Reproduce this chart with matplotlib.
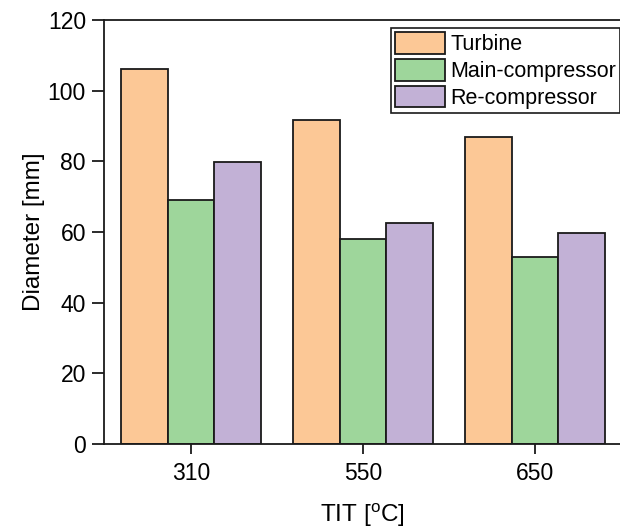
import matplotlib
matplotlib.use("Agg")
import matplotlib.pyplot as plt
import numpy as np

plt.rcParams['font.family'] = ['Liberation Sans', 'DejaVu Sans']
plt.rcParams['mathtext.fontset'] = 'custom'
plt.rcParams['mathtext.rm'] = 'Liberation Sans'
plt.rcParams['mathtext.it'] = 'Liberation Sans:italic'

# Data
tit_labels = ["310", "550", "650"]
series_names = ["Turbine", "Main-compressor", "Re-compressor"]
turbine = [106.1, 91.6, 87.0]
main_compressor = [69.0, 58.0, 52.9]
re_compressor = [79.9, 62.6, 59.7]
colors = ["#FCC896", "#9ED69B", "#C2B1D6"]

fig = plt.figure(figsize=(6.2, 5.29), dpi=100)
ax = fig.add_axes([104 / 620, 85 / 529, 1.0 - 104 / 620, (444 - 20) / 529])

x = np.arange(len(tit_labels))
width = 0.27
for i, (vals, name, c) in enumerate(zip([turbine, main_compressor, re_compressor],
                                        series_names, colors)):
    ax.bar(x + (i - 1) * width, vals, width, color=c, edgecolor="#1a1a1a",
           linewidth=1.3, label=name, zorder=2)

ax.set_xlim(-0.506, 2.494)
ax.set_ylim(0, 120)
ax.set_yticks(np.arange(0, 121, 20))
ax.set_xticks(x)
ax.set_xticklabels(tit_labels)

for side in ["left", "bottom", "top"]:
    ax.spines[side].set_linewidth(1.3)
    ax.spines[side].set_color("#1a1a1a")
ax.spines["right"].set_visible(False)

ax.tick_params(axis="y", direction="out", length=9, width=1.3, labelsize=16.5,
               color="#1a1a1a", pad=4)
ax.tick_params(axis="x", direction="out", length=7, width=1.3, labelsize=16.5,
               color="#1a1a1a", pad=6)

ax.set_ylabel("Diameter [mm]", fontsize=17.5, labelpad=2)
ax.set_xlabel(r"TIT [$^\mathrm{o}$C]", fontsize=17.5, labelpad=12)

leg = ax.legend(loc="upper left", bbox_to_anchor=(391 / 620, 1 - 28 / 529),
                bbox_transform=fig.transFigure, fontsize=15.5, frameon=True,
                fancybox=False, edgecolor="#1a1a1a", framealpha=1,
                handlelength=2.3, handleheight=1.15, labelspacing=0.18,
                handletextpad=0.25, borderpad=0.2, borderaxespad=0)
leg.get_frame().set_linewidth(1.2)

fig.savefig("out.png", dpi=100)
